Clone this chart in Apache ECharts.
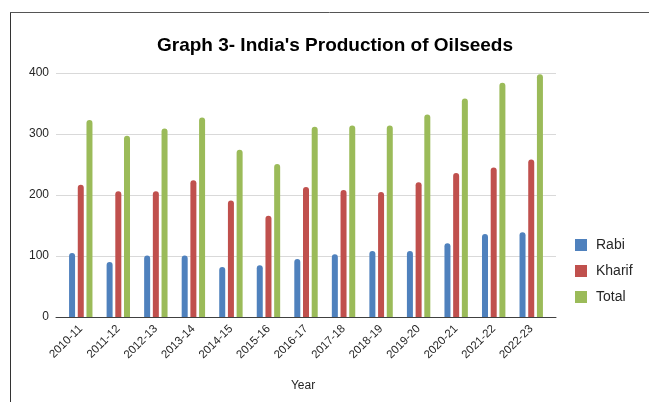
<!DOCTYPE html>
<html>
<head>
<meta charset="utf-8">
<script src="https://cdn.jsdelivr.net/npm/echarts@6/dist/echarts.min.js"></script>
<style>
  html, body { margin: 0; padding: 0; background: #fff; }
  #chart { width: 649px; height: 402px; }
</style>
</head>
<body>
<div id="chart"></div>
<script>
// Oilseed production by season (lakh tonnes)
const years = ['2010-11', '2011-12', '2012-13', '2013-14', '2014-15', '2015-16', '2016-17',
               '2017-18', '2018-19', '2019-20', '2020-21', '2021-22', '2022-23'];
const rabi   = [105, 90, 101, 101, 82, 85, 95, 103, 108, 108, 121, 136, 139];
const kharif = [217, 206, 206, 224, 191, 166, 213, 208, 205, 221, 236, 245, 258];
const total  = [323, 297, 309, 327, 274, 251, 312, 314, 314, 332, 358, 384, 398];
const yTicks = [0, 100, 200, 300, 400];

const seriesNames = ['Rabi', 'Kharif', 'Total'];
const seriesData = [rabi, kharif, total];
const colors = ['#4f81bd', '#c0504d', '#9bbb59'];
const fontFamily = 'Liberation Sans, Arial, sans-serif';

const chart = echarts.init(document.getElementById('chart'), null, { renderer: 'canvas' });

const plotTop = 73, plotHeight = 244;

chart.setOption({
  backgroundColor: '#ffffff',
  animation: false,
  color: colors,
  title: {
    text: "Graph 3- India's Production of Oilseeds",
    left: 330, top: 31, textAlign: 'center',
    textStyle: { fontFamily: fontFamily, fontWeight: 'bold', fontSize: 19, color: '#000' }
  },
  legend: {
    orient: 'vertical',
    left: 570, top: 233,
    itemWidth: 12, itemHeight: 12, itemGap: 12,
    icon: 'rect',
    data: seriesNames,
    textStyle: { fontFamily: fontFamily, fontSize: 14, color: '#262626', padding: [0, 0, 0, 4] }
  },
  grid: [
    // frame grid: value axis, gridlines and baseline
    { left: 56, width: 500, top: plotTop, height: plotHeight, containLabel: false },
    // bar grid
    { left: 62, width: 488, top: plotTop, height: plotHeight, containLabel: false }
  ],
  xAxis: [
    {
      gridIndex: 0, type: 'category', data: [''],
      axisLine: { show: true, lineStyle: { color: '#404040', width: 1 } },
      axisTick: { show: false }, axisLabel: { show: false }, splitLine: { show: false }
    },
    {
      gridIndex: 1, type: 'category', data: years,
      axisLine: { show: false }, axisTick: { show: false },
      axisLabel: {
        rotate: 45, margin: 10, interval: 0,
        fontFamily: fontFamily, fontSize: 11.5, color: '#262626'
      },
      name: 'Year', nameLocation: 'middle', nameGap: 63,
      nameTextStyle: { fontFamily: fontFamily, fontSize: 12, color: '#262626', padding: [0, 0, 0, -6] }
    }
  ],
  yAxis: [
    {
      gridIndex: 0, type: 'value', min: 0, max: 400, interval: 100,
      axisLine: { show: false }, axisTick: { show: false },
      axisLabel: {
        margin: 7, fontFamily: fontFamily, fontSize: 12, color: '#262626',
        formatter: v => (yTicks.includes(v) ? String(v) : '')
      },
      splitLine: { show: true, lineStyle: { color: '#d9d9d9', width: 1 } }
    },
    {
      gridIndex: 1, type: 'value', min: 0, max: 400, interval: 100,
      show: false, splitLine: { show: false }
    }
  ],
  series: seriesNames.map((name, i) => ({
    name: name,
    type: 'bar',
    xAxisIndex: 1, yAxisIndex: 1,
    data: seriesData[i],
    barWidth: 6,
    barGap: '45%',
    itemStyle: { color: colors[i], borderRadius: [3, 3, 0, 0] }
  })),
  // page frame lines around the chart box
  graphic: [
    { type: 'line', shape: { x1: 10.5, y1: 12.5, x2: 10.5, y2: 402 }, style: { stroke: '#333', lineWidth: 1 } },
    { type: 'line', shape: { x1: 10, y1: 12.5, x2: 649, y2: 12.5 }, style: { stroke: '#555', lineWidth: 1 } }
  ]
});
</script>
</body>
</html>
